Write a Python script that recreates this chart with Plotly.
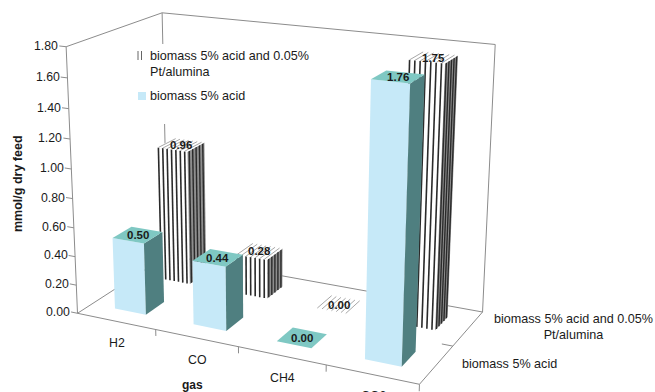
import numpy as np
import plotly.graph_objects as go

# Chart data
gases = ["H2", "CO", "CH4", "CO2"]
series_names = ["biomass 5% acid", "biomass 5% acid and 0.05%<br>Pt/alumina"]
acid_only = [0.50, 0.44, 0.00, 1.76]
acid_with_pt = [0.96, 0.28, 0.00, 1.75]
value_ticks = [0.0, 0.2, 0.4, 0.6, 0.8, 1.0, 1.2, 1.4, 1.6, 1.8]
value_max = 1.8

FONT = "Liberation Sans, Arial, sans-serif"
BLUE_FRONT, TEAL_SIDE, TEAL_TOP = "#C6E9F8", "#4F7F80", "#7FC8C3"
AXIS_GREY = "#8C8C8C"

# Perspective camera for the 3D box: (category, value, series depth) -> page pixels,
# solved by least squares from where the box corners and edge marks sit on the page.
camera_world = [(0, 0, 0), (4, 0, 0), (4, 0, 2), (0, 0, 2), (0, 1.8, 0), (0, 1.8, 2), (4, 1.8, 2),
                (0, 1.0, 0), (1, 0, 0), (2, 0, 0), (3, 0, 0), (4, 0, 1)]
camera_page = [(79, 313), (418, 383), (482, 312), (166, 255), (65, 46), (163, 13), (495, 45),
               (72, 169), (156, 330), (238, 347), (325, 367), (456, 345)]
rows, rhs = [], []
for (wx, wy, wz), (px, py) in zip(camera_world, camera_page):
    rows.append([wx, wy, wz, 1, 0, 0, 0, 0, -px * wx, -px * wy, -px * wz])
    rows.append([0, 0, 0, 0, wx, wy, wz, 1, -py * wx, -py * wy, -py * wz])
    rhs += [px, py]
coef = np.linalg.lstsq(np.array(rows, float), np.array(rhs, float), rcond=None)[0]
CAM = np.append(coef, 1.0).reshape(3, 4)


def project(x, y, z):
    u, v, w = CAM @ np.array([x, y, z, 1.0])
    return u / w, v / w


fig = go.Figure()


def polygon(points, fill):
    xy = [project(*p) for p in points]
    xy.append(xy[0])
    fig.add_trace(go.Scatter(x=[q[0] for q in xy], y=[q[1] for q in xy], mode="lines",
                             fill="toself", fillcolor=fill, line=dict(width=0, color=fill),
                             hoverinfo="skip", showlegend=False))


def segments(pairs, color, width):
    xs, ys = [], []
    for a, b in pairs:
        pa, pb = project(*a), project(*b)
        xs += [pa[0], pb[0], None]
        ys += [pa[1], pb[1], None]
    fig.add_trace(go.Scatter(x=xs, y=ys, mode="lines", line=dict(color=color, width=width),
                             hoverinfo="skip", showlegend=False))


# Walls and floor outline
segments([((0, 0, 0), (0, 1.8, 0)), ((0, 1.8, 0), (0, 1.8, 2)), ((0, 1.8, 2), (4, 1.8, 2)),
          ((4, 1.8, 2), (4, 0, 2)), ((0, 1.8, 2), (0, 0, 2)),
          ((0, 0, 0), (0, 0, 2)), ((0, 0, 2), (4, 0, 2)), ((4, 0, 2), (4, 0, 0)), ((0, 0, 0), (4, 0, 0))],
         AXIS_GREY, 1)
segments([((i, 0, 0), (i, -0.045, 0)) for i in range(1, 5)], AXIS_GREY, 1)
segments([((4, 0, 1), (3.88, 0, 1))], AXIS_GREY, 1)
segments([((0, v, 0), (-0.085, v, 0)) for v in value_ticks], AXIS_GREY, 1)

BAR_W, BAR_D = 0.40, 0.40


def bar_box(i, depth, value):
    x0, x1 = i + 0.5 - BAR_W / 2, i + 0.5 + BAR_W / 2
    z0, z1 = depth + 0.5 - BAR_D / 2, depth + 0.5 + BAR_D / 2
    return x0, x1, z0, z1, value


def solid_bar(i, depth, value):
    x0, x1, z0, z1, h = bar_box(i, depth, value)
    if h > 0:
        polygon([(x0, 0, z0), (x1, 0, z0), (x1, h, z0), (x0, h, z0)], BLUE_FRONT)
        polygon([(x1, 0, z0), (x1, 0, z1), (x1, h, z1), (x1, h, z0)], TEAL_SIDE)
    polygon([(x0, h, z0), (x1, h, z0), (x1, h, z1), (x0, h, z1)], TEAL_TOP)


def striped_bar(i, depth, value):
    x0, x1, z0, z1, h = bar_box(i, depth, value)
    n_front, n_side = 7, 5
    front_x = [x0 + (x1 - x0) * (k + 0.35) / n_front for k in range(n_front)]
    side_z = [z0 + (z1 - z0) * (k + 0.5) / n_side for k in range(n_side)]
    if h > 0:
        polygon([(x0, 0, z0), (x1, 0, z0), (x1, h, z0), (x0, h, z0)], "#FFFFFF")
        polygon([(x1, 0, z0), (x1, 0, z1), (x1, h, z1), (x1, h, z0)], "#8E8E8E")
        segments([((x, 0, z0), (x, h, z0)) for x in front_x], "#2A2A2A", 1.6)
        segments([((x1, 0, z), (x1, h, z)) for z in side_z], "#2A2A2A", 1.4)
    polygon([(x0, h, z0), (x1, h, z0), (x1, h, z1), (x0, h, z1)], "#FFFFFF")
    segments([((x, h, z0), (x, h, z1)) for x in front_x], "#A8A8A8", 1)


# Back row first so the front row paints over it
for i, v in enumerate(acid_with_pt):
    striped_bar(i, 1, v)
for i, v in enumerate(acid_only):
    solid_bar(i, 0, v)

notes = []


def text(x, y, s, size=12, bold=False, xanchor="center", yanchor="middle", angle=0, align="center"):
    notes.append(dict(x=x, y=y, xref="x", yref="y", text=f"<b>{s}</b>" if bold else s, showarrow=False,
                      xanchor=xanchor, yanchor=yanchor, textangle=angle, align=align,
                      font=dict(family=FONT, size=size, color="#1A1A1A")))


# Value labels sit on the bar tops
for depth, values in enumerate([acid_only, acid_with_pt]):
    for i, v in enumerate(values):
        px, py = project(i + 0.5, v, depth + 0.5)
        text(px, py, f"{v:.2f}", size=11.5, bold=True)

# Value axis
for v in value_ticks:
    px, py = project(-0.085, v, 0)
    text(px + 1, py, f"{v:.2f}", size=12.3, xanchor="right")
text(18, 184, "mmol/g dry feed", size=12.5, bold=True, angle=-90)

# Category axis
for i, g in enumerate(gases):
    px, py = project(i + 0.5, 0, 0)
    # anchored by its top so the lowest label can run off the page edge
    text(px + 1, py + 13, g, size=12.3, yanchor="top")
text(192, 385, "gas", size=12, bold=True)

# Depth axis
text(573, 327, series_names[1], size=12.6)
text(509, 364, series_names[0], size=12.6)

# Legend on a white panel, in front of the back wall line
fig.add_shape(type="rect", xref="x", yref="y", x0=130, x1=318, y0=44, y1=124,
              fillcolor="white", line_width=0, layer="above")
fig.add_shape(type="rect", xref="x", yref="y", x0=138, x1=146, y0=92, y1=100,
              fillcolor=BLUE_FRONT, line_width=0, layer="above")
for sx in (138, 141.5):
    fig.add_shape(type="line", xref="x", yref="y", x0=sx, x1=sx, y0=51, y1=60,
                  line=dict(color="#666666", width=1), layer="above")
text(148, 63.5, series_names[1], size=12.6, xanchor="left", align="left")
text(148, 96, series_names[0], size=12.6, xanchor="left", align="left")

fig.update_layout(width=655, height=392, margin=dict(l=0, r=0, t=0, b=0), showlegend=False,
                  plot_bgcolor="white", paper_bgcolor="white", annotations=notes,
                  xaxis=dict(range=[0, 655], visible=False, fixedrange=True),
                  yaxis=dict(range=[392, 0], visible=False, fixedrange=True))
fig.write_html("out.html", config={"displayModeBar": False})
